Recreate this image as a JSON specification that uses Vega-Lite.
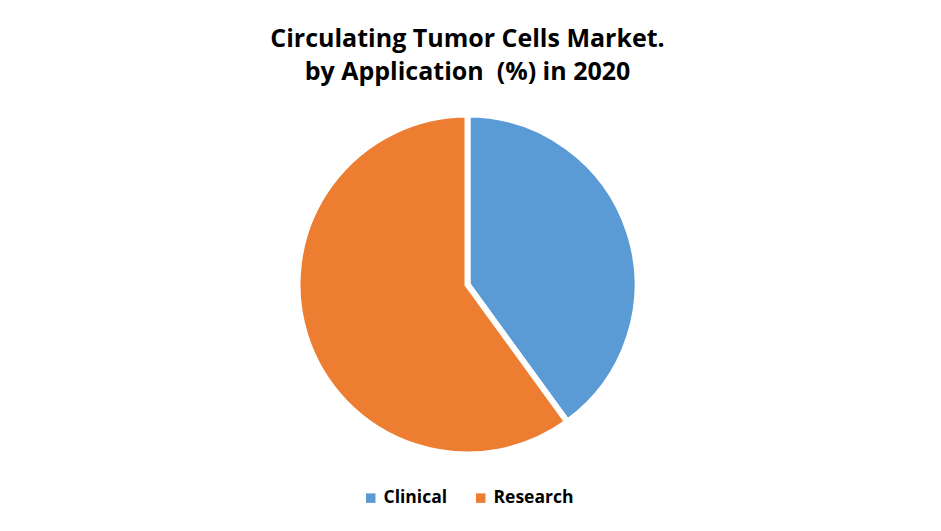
{
  "$schema": "https://vega.github.io/schema/vega-lite/v6.json",
  "width": 941,
  "height": 531,
  "autosize": {"type": "fit", "contains": "padding"},
  "padding": {"top": 27, "bottom": 24, "left": 0, "right": 6},
  "background": "white",
  "title": {
    "text": ["Circulating Tumor Cells Market.", "by Application \u00a0(%) in 2020"],
    "font": "Open Sans",
    "fontSize": 25,
    "fontWeight": "bold",
    "color": "#000000",
    "lineHeight": 33,
    "anchor": "middle",
    "offset": 9
  },
  "data": {
    "values": [
      {"Application": "Clinical", "Share": 40},
      {"Application": "Research", "Share": 60}
    ]
  },
  "mark": {"type": "arc", "outerRadius": 170, "stroke": "white", "strokeWidth": 6},
  "encoding": {
    "theta": {"field": "Share", "type": "quantitative", "stack": true},
    "color": {
      "field": "Application",
      "type": "nominal",
      "scale": {"domain": ["Clinical", "Research"], "range": ["#5B9BD5", "#ED7D31"]},
      "legend": {
        "orient": "bottom",
        "direction": "horizontal",
        "title": null,
        "symbolType": "square",
        "symbolSize": 90,
        "symbolStrokeWidth": 0,
        "labelFont": "Open Sans",
        "labelFontSize": 17.5,
        "labelFontWeight": "bold",
        "labelColor": "#000000",
        "columnPadding": 24,
        "offset": 14
      }
    }
  },
  "config": {
    "view": {"stroke": null},
    "legend": {"layout": {"bottom": {"anchor": "middle"}}}
  }
}
